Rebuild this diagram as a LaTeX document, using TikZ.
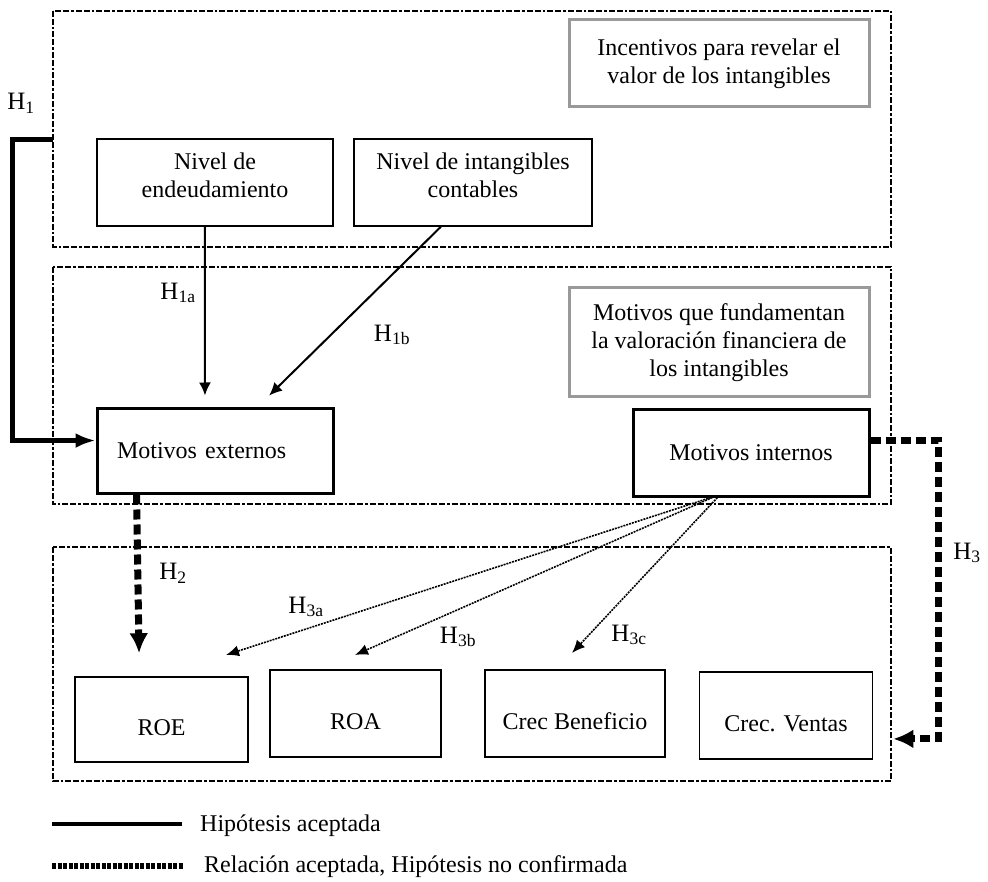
\documentclass[tikz,border=0pt]{standalone}
\usepackage{fontspec}
\setmainfont{Liberation Serif}
\usetikzlibrary{arrows.meta}

\begin{document}
\begin{tikzpicture}[x=1pt, y=-1pt,
	font=\fontsize{24}{28}\selectfont,
	frame/.style={line width=2.6pt, dash pattern=on 6pt off 2pt on 6pt off 2pt on 2.5pt off 2pt},
	infobox/.style={draw=gray!80, line width=3pt, align=center, inner sep=0pt},
	varbox/.style={draw, line width=1.6pt, align=center, inner sep=0pt},
	motbox/.style={draw, line width=3pt, inner sep=0pt},
	raised/.style={text depth=15pt},
	lowered/.style={text height=36pt, text depth=5pt},
	hyp/.style={font=\fontsize{25}{30}\selectfont, inner sep=0pt},
	acc/.style={line width=2pt, -{Latex[length=13pt, width=12pt]}},
	accbig/.style={line width=5pt, -{Latex[length=20pt, width=15pt]}},
	rel/.style={line width=7pt, dash pattern=on 10pt off 5pt, -{Latex[length=20pt, width=19pt]}},
	relthin/.style={line width=1.6pt, dash pattern=on 2pt off 1pt, -{Latex[length=13pt, width=11pt]}}]

	\useasboundingbox (0,0) rectangle (988,882);

	% the three frames
	\draw[frame] (53,11) rectangle (891,247);
	\draw[frame] (53,267) rectangle (891,504);
	\draw[frame] (53,547) rectangle (891,781);
	\coordinate (h1start) at (53,140);

	\node[infobox, minimum width=300, minimum height=87] (incent) at (719,63.5) {Incentivos para revelar el\\valor de los intangibles};
	\node[varbox, raised, minimum width=236, minimum height=87] (endeud) at (215,182.5) {Nivel de\\endeudamiento};
	\node[varbox, raised, minimum width=238, minimum height=87] (intcont) at (473,182.5) {Nivel de intangibles\\contables};

	\node[infobox, minimum width=300, minimum height=109] (fundam) at (719,342.5) {Motivos que fundamentan\\la valoración financiera de\\los intangibles};
	\node[motbox, minimum width=236, minimum height=84, text width=196, inner xsep=20, align=left] (externos) at (215,451) {Motivos externos};
	\node[motbox, minimum width=236, minimum height=86, align=center] (internos) at (751,453) {Motivos internos};

	\node[varbox, lowered, minimum width=173, minimum height=85] (roe) at (161.5,719.5) {ROE};
	\node[varbox, lowered, minimum width=171, minimum height=87] (roa) at (355.5,713.5) {ROA};
	\node[varbox, lowered, minimum width=180, minimum height=87] (crecben) at (575,713.5) {Crec Beneficio};
	\node[varbox, lowered, minimum width=173, minimum height=87] (crecven) at (786,715.5) {Crec. Ventas};

	% hypotheses
	\draw[accbig] (h1start) -- (12,140) |- (externos.175);
	\draw[acc, shorten >=12pt] (endeud.257) -- (externos.103);
	\draw[acc, shorten >=17pt] (intcont.234) -- (externos.46);
	\draw[rel, shorten >=23pt] (externos.209) -- (roe.117);
	\draw[rel, shorten >=20pt] (internos.6) -- ++(68,0) |- (crecven.345);

	\coordinate (h3atip) at (226,655);
	\coordinate (h3btip) at (355,655);
	\coordinate (h3ctip) at (572,653);
	\draw[relthin] (internos.228) -- (h3atip);
	\draw[relthin] (internos.229) -- (h3btip);
	\draw[relthin] (internos.233) -- (h3ctip);

	\node[hyp] (h1) at (21,103) {H\textsubscript{1}};
	\node[hyp] (h1a) at (178,293) {H\textsubscript{1a}};
	\node[hyp] (h1b) at (392,335) {H\textsubscript{1b}};
	\node[hyp] (h2) at (173,573) {H\textsubscript{2}};
	\node[hyp] (h3) at (967,553) {H\textsubscript{3}};
	\node[hyp] (h3a) at (306,607) {H\textsubscript{3a}};
	\node[hyp] (h3b) at (458,637) {H\textsubscript{3b}};
	\node[hyp] (h3c) at (629,635) {H\textsubscript{3c}};

	% legend
	\draw[line width=4pt] (52,824) -- (182,824);
	\node[anchor=west, inner sep=0pt] (legacc) at (200,826) {Hipótesis aceptada};
	\draw[line width=5.5pt, dash pattern=on 4pt off 1.5pt] (52,866) -- (183,866);
	\node[anchor=west, inner sep=0pt] (legrel) at (204,867) {Relación aceptada, Hipótesis no confirmada};
\end{tikzpicture}
\end{document}
